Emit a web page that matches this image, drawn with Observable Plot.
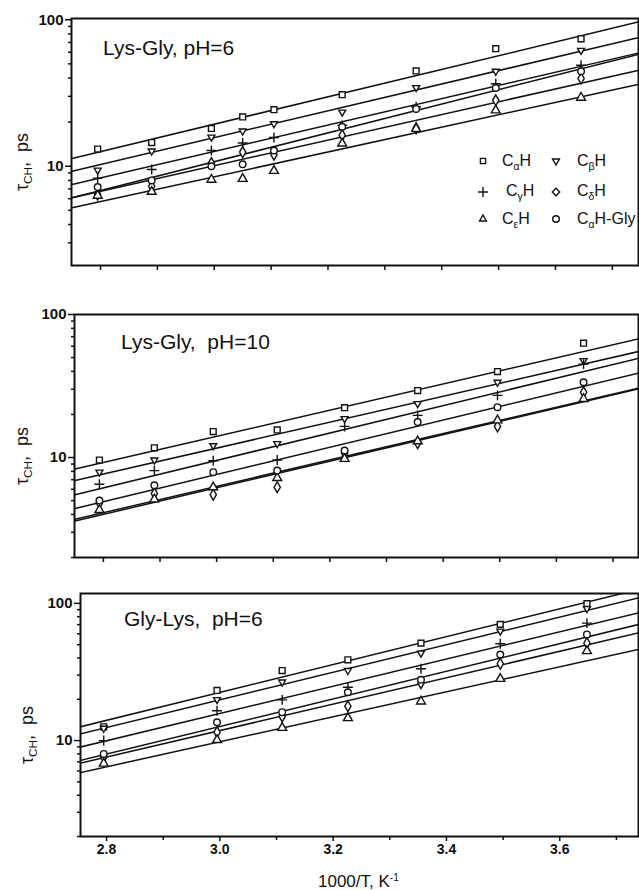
<!DOCTYPE html>
<html><head><meta charset="utf-8">
<script src="https://cdn.jsdelivr.net/npm/d3@7"></script>
<script src="https://cdn.jsdelivr.net/npm/@observablehq/plot@0.6"></script>
<style>
body{margin:0;background:#fff;font-family:"Liberation Sans",Arial,sans-serif;color:#111;}
#root{position:relative;width:639px;height:890px;overflow:hidden;background:#fff;}
.panel{position:absolute;left:0;}
.ov{position:absolute;white-space:pre;line-height:1;color:#111;}
.ov sub{font-size:0.65em;vertical-align:-0.35em;line-height:0;}
.ov sup{font-size:0.6em;vertical-align:0.55em;line-height:0;}
.ylab{position:absolute;white-space:pre;line-height:1;font-size:18px;color:#111;transform:translate(-50%,-50%) rotate(-90deg);}
.ylab sub{font-size:0.65em;vertical-align:-0.35em;line-height:0;}
</style></head><body><div id="root"></div>
<script>
// ---------- data ----------
const series = ["CαH", "CβH", "CγH", "CδH", "CεH", "CαH-Gly"];
const seriesHtml = ["C<sub>α</sub>H", "C<sub>β</sub>H", "C<sub>γ</sub>H", "C<sub>δ</sub>H", "C<sub>ε</sub>H", "C<sub>α</sub>H-Gly"];

// 1000/T values (K^-1)
const xLysGly6 = [2.795, 2.89, 2.995, 3.05, 3.105, 3.225, 3.355, 3.495, 3.645];
const xLysGly10 = [2.793, 2.89, 2.994, 3.107, 3.226, 3.355, 3.496, 3.648];
const xGlyLys6 = [2.795, 2.995, 3.11, 3.226, 3.355, 3.495, 3.648];

// tau_CH (ps), rows follow `series`
const tauLysGly6 = [
  [13.1, 14.5, 18.1, 21.7, 24.3, 30.8, 44.7, 63.4, 74.1],
  [9.4, 12.7, 15.8, 17.4, 19.5, 23.4, 34.4, 44.5, 61.8],
  [8.3, 9.5, 12.8, 14.4, 15.7, 19.0, 25.5, 36.6, 48.9],
  [6.4, 7.3, 10.5, 12.5, 12.0, 16.3, 18.2, 28.2, 39.7],
  [6.3, 6.7, 8.1, 8.2, 9.3, 14.3, 18.0, 24.1, 29.4],
  [7.2, 8.0, 10.0, 10.3, 12.8, 18.6, 24.6, 34.2, 44.5]
];
const tauLysGly10 = [
  [9.6, 11.7, 15.2, 15.6, 22.3, 29.4, 39.9, 63.0],
  [7.9, 9.6, 12.1, 12.5, 18.7, 23.8, 33.6, 47.6],
  [6.5, 8.1, 9.5, 9.6, 16.5, 19.7, 27.2, 45.0],
  [4.8, 5.6, 5.5, 6.2, 10.7, 12.6, 16.5, 28.6],
  [4.3, 5.1, 6.2, 7.2, 9.8, 13.0, 18.2, 25.7],
  [5.0, 6.4, 7.9, 8.1, 11.2, 17.7, 22.5, 33.6]
];
const tauGlyLys6 = [
  [12.6, 23.2, 32.4, 38.8, 51.3, 70.3, 99.6],
  [12.3, 19.9, 26.7, 32.4, 43.4, 62.8, 91.5],
  [10.0, 16.5, 19.8, 24.5, 33.4, 50.8, 71.8],
  [7.6, 11.5, 15.0, 17.8, 26.2, 36.3, 51.3],
  [6.8, 10.1, 12.4, 14.6, 19.3, 28.2, 44.9],
  [8.0, 13.6, 16.1, 22.5, 27.7, 42.4, 59.4]
];

// fitted lines: value at left end and right end
const lineX = [2.75, 3.745];
const fitStartLysGly6 = [11.3, 9.25, 7.5, 6.1, 5.2, 6.1];
const fitEndLysGly6   = [96.4, 75.4, 59.2, 45.1, 36.2, 58.0];
const fitStartLysGly10 = [8.3, 6.9, 5.5, 3.6, 3.7, 4.4];
const fitEndLysGly10   = [67.6, 55.1, 49.4, 30.2, 30.6, 38.9];
const fitStartGlyLys6 = [12.5, 11.1, 8.9, 6.8, 5.8, 7.1];
const fitEndGlyLys6   = [128, 111, 86.3, 61.7, 46.7, 71.1];

const panelTitles = ["Lys-Gly, pH=6", "Lys-Gly,  pH=10", "Gly-Lys,  pH=6"];
const xTickMajor = [2.8, 3.0, 3.2, 3.4, 3.6];
const xTickMinor = [2.9, 3.1, 3.3, 3.5, 3.7];
const yTickMajor = [10, 100];
const yTickMinor = [2, 3, 4, 5, 6, 7, 8, 9, 20, 30, 40, 50, 60, 70, 80, 90];
const xAxisLabel = "1000/T, K";

// ---------- symbols ----------
const invTriangle = {
  draw(context, size) {
    const s = Math.sqrt(size) * 0.6824, t = s / 2, u = s * Math.sqrt(3) / 2;
    context.moveTo(0, s); context.lineTo(u, -t); context.lineTo(-u, -t); context.closePath();
  }
};
const symbolFor = ["square", invTriangle, "plus", "diamond", "triangle", "circle"];
const d3SymbolFor = [d3.symbolSquare2, invTriangle, d3.symbolPlus, d3.symbolDiamond2, d3.symbolTriangle2, d3.symbolCircle];

const INK = "#111";
const root = document.getElementById("root");

function buildPanel(cfg) {
  const pts = [];
  cfg.tau.forEach((row, i) => row.forEach((v, j) => pts.push({x: cfg.xs[j], y: v, s: series[i], i})));
  const lines = [];
  series.forEach((s, i) => {
    lines.push({x: lineX[0], y: cfg.fitStart[i], s});
    lines.push({x: lineX[1], y: cfg.fitEnd[i], s});
  });
  const yMin = yTickMinor.filter(v => v >= cfg.ydom[0] && v <= cfg.ydom[1]);
  const marks = [
    Plot.line(lines, {x: "x", y: "y", z: "s", stroke: INK, strokeWidth: 1.5, clip: true}),
    ...series.map((s, i) => Plot.dot(pts.filter(d => d.i === i), {
      x: "x", y: "y", symbol: symbolFor[i], r: 3.3, stroke: INK, strokeWidth: 1.4,
      fill: i === 2 ? "none" : "white", clip: true
    })),
    Plot.axisY(yTickMajor, {tickSize: 6, tickPadding: 2, tickFormat: d => String(d), fontSize: 15, fontWeight: "bold", strokeWidth: 1.5, stroke: INK}),
    Plot.axisY(yMin, {tickSize: 3, tickFormat: () => "", strokeWidth: 1.5, stroke: INK}),
    Plot.frame({stroke: INK, strokeWidth: 2})
  ];
  if (cfg.xLabels) {
    marks.push(Plot.axisX(xTickMajor, {tickSize: 5, tickPadding: 3, tickFormat: d => d.toFixed(1), fontSize: 14, fontWeight: "bold", strokeWidth: 1.5, stroke: INK}));
    marks.push(Plot.axisX(xTickMinor, {tickSize: 4, tickFormat: () => "", strokeWidth: 1.5, stroke: INK}));
  } else {
    marks.push(Plot.axisX([...xTickMajor, ...xTickMinor], {tickSize: 5, tickFormat: () => "", strokeWidth: 1.5, stroke: INK}));
  }
  const chart = Plot.plot({
    width: 639, height: cfg.height,
    marginTop: cfg.mt, marginBottom: cfg.mb, marginLeft: cfg.ml, marginRight: 1,
    x: {domain: cfg.xdom, label: null},
    y: {type: "log", domain: cfg.ydom, label: null},
    style: {fontFamily: "Liberation Sans, Arial, sans-serif", color: INK, background: "white", overflow: "visible"},
    marks
  });
  const div = document.createElement("div");
  div.className = "panel";
  div.style.top = cfg.top + "px";
  div.appendChild(chart);
  root.appendChild(div);
}

buildPanel({top: 0, height: 283, mt: 18, mb: 18, ml: 71, xdom: [2.749, 3.746], ydom: [2.1, 102],
  xs: xLysGly6, tau: tauLysGly6, fitStart: fitStartLysGly6, fitEnd: fitEndLysGly6, xLabels: false});
buildPanel({top: 290, height: 280, mt: 24, mb: 13, ml: 74, xdom: [2.749, 3.745], ydom: [2, 100],
  xs: xLysGly10, tau: tauLysGly10, fitStart: fitStartLysGly10, fitEnd: fitEndLysGly10, xLabels: false});
buildPanel({top: 570, height: 320, mt: 23, mb: 54, ml: 80, xdom: [2.754, 3.739], ydom: [2, 118],
  xs: xGlyLys6, tau: tauGlyLys6, fitStart: fitStartGlyLys6, fitEnd: fitEndGlyLys6, xLabels: true});

// ---------- text overlays ----------
function addText(html, left, top, size, cls = "ov") {
  const d = document.createElement("div");
  d.className = cls;
  d.style.left = left + "px"; d.style.top = top + "px"; d.style.fontSize = size + "px";
  d.innerHTML = html;
  root.appendChild(d);
  return d;
}
addText(panelTitles[0], 103, 37, 21);
addText(panelTitles[1], 121, 331, 21);
addText(panelTitles[2], 124, 608, 21);

[[22, 162], [22, 456], [27, 735]].forEach(([x, y]) => {
  const d = document.createElement("div");
  d.className = "ylab";
  d.style.left = x + "px"; d.style.top = y + "px";
  d.innerHTML = "τ<sub>CH</sub>,&nbsp; ps";
  root.appendChild(d);
});

addText(xAxisLabel + "<sup>-1</sup>", 318, 873, 17);

// legend
const legendPos = [
  {mx: 483, my: 161, tx: 502, ty: 153},
  {mx: 556, my: 161, tx: 577, ty: 153},
  {mx: 483, my: 192, tx: 506, ty: 183},
  {mx: 556, my: 192, tx: 577, ty: 183},
  {mx: 483, my: 219, tx: 502, ty: 211},
  {mx: 556, my: 219, tx: 577, ty: 211}
];
series.forEach((s, i) => {
  const p = legendPos[i];
  const svg = d3.create("svg").attr("width", 14).attr("height", 14)
    .style("position", "absolute").style("left", (p.mx - 7) + "px").style("top", (p.my - 7) + "px");
  svg.append("path").attr("transform", "translate(7,7)")
    .attr("d", d3.symbol(d3SymbolFor[i], 3.3 * 3.3 * Math.PI)())
    .attr("fill", i === 2 ? "none" : "white").attr("stroke", INK).attr("stroke-width", 1.4);
  root.appendChild(svg.node());
  addText(seriesHtml[i], p.tx, p.ty, 16);
});
</script>
</body></html>
